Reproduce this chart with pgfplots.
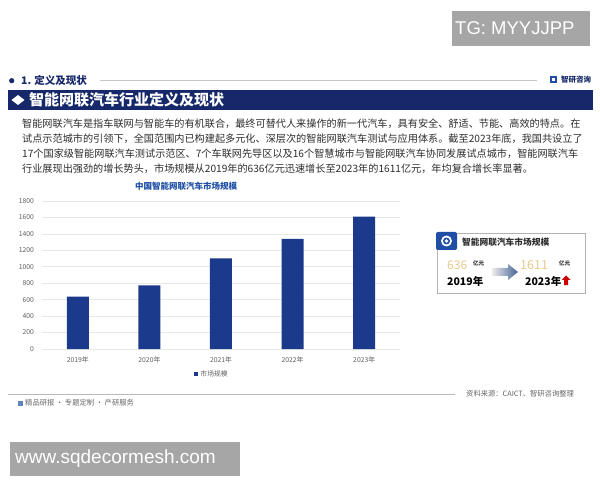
\documentclass[border=0pt]{standalone}
\usepackage{pgfplots}
\pgfplotsset{compat=1.18}
\usepackage{fontspec}
\setmainfont{Noto Sans CJK SC}
\newfontfamily\arialf{Liberation Sans}
\definecolor{navy}{RGB}{22,40,105}
\definecolor{barblue}{RGB}{27,58,140}
\definecolor{titleblue}{RGB}{30,78,165}
\definecolor{tanc}{RGB}{233,200,140}
\definecolor{wm}{RGB}{166,166,166}
\definecolor{txt}{RGB}{45,45,45}
\begin{document}
\begin{tikzpicture}[x=1pt,y=1pt]
\useasboundingbox (0,0) rectangle (600,480);
\fill[white] (0,0) rectangle (600,480);
% TG box
\fill[wm] (451.6,434) rectangle (590,468.5);
\node[anchor=west, inner sep=0, text=white, font=\arialf\fontsize{18.5}{20}\selectfont] at (455,451.5) {TG: MYYJJPP};
% section header
\fill[navy] (11.7,399.3) circle (2.6);
\node[anchor=west, inner sep=0, text=navy, font=\fontsize{10.5}{12}\selectfont\bfseries] at (21,399.3) {1. 定义及现状};
\draw[gray!45, line width=1.2] (100,399.5) -- (537,399.5);
% logo
\fill[titleblue] (550,396.5) rectangle (557,403.5);
\fill[white] (552,398.5) rectangle (555,401.5);
\node[anchor=west, inner sep=0, text=navy, font=\fontsize{7.5}{9}\selectfont\bfseries] at (561,400) {智研咨询};
% banner
\fill[navy] (8,370) rectangle (593,390);
\fill[white] (11.5,380) -- (18,385) -- (24.5,380) -- (18,375) -- cycle;
\node[anchor=west, inner sep=0, text=white, font=\fontsize{15}{17}\selectfont\bfseries] at (29,380) {智能网联汽车行业定义及现状};
% paragraph
\begin{scope}[every node/.style={anchor=west, inner sep=0, text=txt, font=\fontsize{10.15}{12}\selectfont}]
\node at (22,356) {智能网联汽车是指车联网与智能车的有机联合，最终可替代人来操作的新一代汽车，具有安全、舒适、节能、高效的特点。在};
\node at (22,341) {试点示范城市的引领下，全国范围内已构建起多元化、深层次的智能网联汽车测试与应用体系。截至2023年底，我国共设立了};
\node at (22,326) {17个国家级智能网联汽车测试示范区、7个车联网先导区以及16个智慧城市与智能网联汽车协同发展试点城市，智能网联汽车};
\node at (22,311) {行业展现出强劲的增长势头，市场规模从2019年的636亿元迅速增长至2023年的1611亿元，年均复合增长率显著。};
\end{scope}
\node[inner sep=0, text=titleblue, font=\fontsize{8.5}{10}\selectfont\bfseries] at (186,294) {中国智能网联汽车市场规模};
% chart
\begin{axis}[
  at={(42pt,131pt)}, anchor=south west,
  scale only axis, width=358pt, height=148pt,
  xmin=-0.5, xmax=4.5, ymin=0, ymax=1800,
  ytick={0,200,...,1800},
  xtick={0,1,2,3,4},
  xticklabels={2019年,2020年,2021年,2022年,2023年},
  axis line style={draw=none},
  major tick length=0pt,
  ymajorgrids, grid style={draw=gray!18, line width=0.6pt},
  tick label style={font=\fontsize{6.8}{8}\selectfont, text=gray!75!black},
  yticklabel style={xshift=-4.5pt},
  xticklabel style={yshift=-4pt},
  /pgf/number format/assume math mode=true,
  /pgf/number format/1000 sep={},
  legend style={at={(0.475,-0.169)}, anchor=center, draw=none, fill=none, font=\fontsize{6.8}{8}\selectfont, text=gray!75!black, inner sep=0pt},
  legend image code/.code={\fill[barblue] (0pt,-2pt) rectangle (4pt,2pt);},
  clip=false,
]
\addplot[ybar, bar width=22pt, fill=barblue, draw=none] coordinates {(0,636) (1,775) (2,1101) (3,1339) (4,1611)};
\legend{市场规模}
\end{axis}
% info box
\draw[gray!60, line width=0.8] (437,187) rectangle (585,247);
\fill[titleblue, rounded corners=2] (436,230) rectangle (457,248);
\fill[white] (446.5,239) circle (5.5);
\fill[titleblue] (446.5,239) circle (3.5);
\fill[white] (446.5,239) circle (1.8);
\node[anchor=west, inner sep=0, text=txt, font=\fontsize{8.7}{10}\selectfont\bfseries] at (462,238) {智能网联汽车市场规模};
\node[anchor=west, inner sep=0, text=tanc, font=\fontsize{12}{14}\selectfont] at (447,215) {636};
\node[anchor=west, inner sep=0, text=txt, font=\fontsize{5.5}{6}\selectfont\bfseries] at (473,216.5) {亿元};
\node[anchor=west, inner sep=0, text=black, font=\fontsize{10.5}{12}\selectfont\bfseries] at (447,199) {2019年};
\shade[left color=gray!15, right color=titleblue!60!gray] (492,204) -- (508,204) -- (508,200) -- (518,208) -- (508,216) -- (508,212) -- (492,212) -- cycle;
\node[anchor=west, inner sep=0, text=tanc, font=\fontsize{12.5}{14}\selectfont] at (520,215) {1611};
\node[anchor=west, inner sep=0, text=txt, font=\fontsize{5.5}{6}\selectfont\bfseries] at (559,216.5) {亿元};
\node[anchor=west, inner sep=0, text=black, font=\fontsize{10.5}{12}\selectfont\bfseries] at (525,199) {2023年};
\fill[red!80!black] (566,204.5) -- (570.5,200) -- (568,200) -- (568,195) -- (564,195) -- (564,200) -- (561.5,200) -- cycle;
% footer
\draw[gray!55, line width=0.8] (8,86) -- (455,86);
\node[anchor=west, inner sep=0, text=gray!80!black, font=\fontsize{7.3}{9}\selectfont] at (466,86) {资料来源：CAICT、智研咨询整理};
\fill[titleblue!70] (18,74.5) rectangle (23,79.5);
\node[anchor=west, inner sep=0, text=gray!80!black, font=\fontsize{7.3}{9}\selectfont] at (25,77) {精品研报 · 专题定制 · 产研服务};
% bottom box
\fill[wm] (10,4) rectangle (240,38.5);
\node[anchor=west, inner sep=0, text=white, font=\arialf\fontsize{19}{21}\selectfont] at (15,21.5) {www.sqdecormesh.com};
\end{tikzpicture}
\end{document}
